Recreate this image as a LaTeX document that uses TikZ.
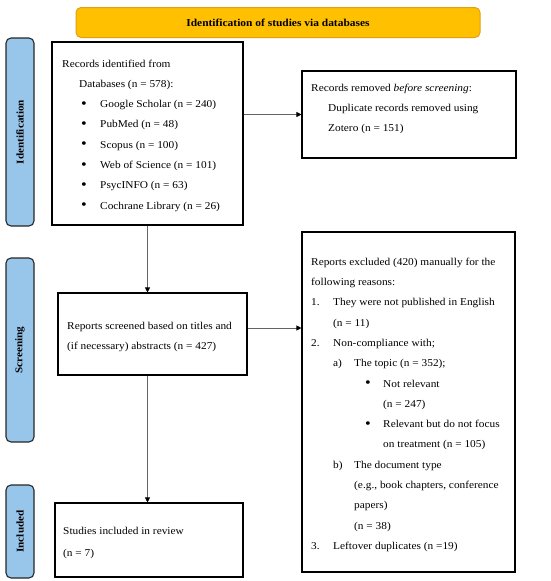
\documentclass[tikz,border=0pt]{standalone}
\usepackage{fontspec}
\setmainfont{Liberation Serif}[FakeStretch=1.08]
\usetikzlibrary{arrows.meta}
\definecolor{bannerfill}{RGB}{255,192,0}
\definecolor{bannerdraw}{RGB}{225,160,20}
\definecolor{barfill}{RGB}{152,198,234}
\definecolor{linegray}{RGB}{100,100,100}
\newcommand\lbl[2]{\makebox[#1][l]{#2}}
\newcommand\bull{{\fontsize{15}{15}\selectfont\raisebox{-0.6pt}{\textbullet}}}
\begin{document}
\begin{tikzpicture}[x=1pt,y=-1pt,
 box/.style={draw=black,line width=1.1pt,inner sep=0,rectangle},
 txt/.style={anchor=north west,inner sep=0,align=left,font=\fontsize{10.5}{20.3}\selectfont},
 bar/.style={draw=black!85,fill=barfill,rounded corners=5pt,line width=1.1pt,rotate=90,
   minimum height=28pt,inner sep=0,font=\bfseries\fontsize{10.3}{10}\selectfont},
 conn/.style={draw=linegray,line width=0.9pt,-{Triangle[length=5pt,width=5pt,color=black]}}]
\useasboundingbox (0,0) rectangle (550,581);
% banner
\node[draw=bannerdraw,fill=bannerfill,rounded corners=5pt,line width=1pt,
  minimum width=404pt,minimum height=30pt,inner sep=0,font=\bfseries\fontsize{10.6}{10}\selectfont]
  (banner) at (278,22.5) {Identification of studies via databases};
% side bars
\node[bar,minimum width=188pt] (idbar) at (20,132) {Identification};
\node[bar,minimum width=184pt] (scbar) at (20,350) {Screening};
\node[bar,minimum width=93pt] (inbar) at (20,531.5) {Included};
% boxes
\node[box,minimum width=191pt,minimum height=183pt] (rec) at (147.5,133.5) {};
\node[box,minimum width=214pt,minimum height=87pt] (rem) at (409,114.5) {};
\node[box,minimum width=189pt,minimum height=82pt] (scr) at (152.5,334) {};
\node[box,minimum width=213pt,minimum height=340pt] (exc) at (408.5,402) {};
\node[box,minimum width=188pt,minimum height=74pt] (inc) at (149,540) {};
% texts
\node[txt] (rectext) at (62,59.5) {Records identified from\\
\hspace*{17pt}Databases (n = 578):\\
\hspace*{19pt}\lbl{19pt}{\bull}Google Scholar (n = 240)\\
\hspace*{19pt}\lbl{19pt}{\bull}PubMed (n = 48)\\
\hspace*{19pt}\lbl{19pt}{\bull}Scopus (n = 100)\\
\hspace*{19pt}\lbl{19pt}{\bull}Web of Science (n = 101)\\
\hspace*{19pt}\lbl{19pt}{\bull}PsycINFO (n = 63)\\
\hspace*{19pt}\lbl{19pt}{\bull}Cochrane Library (n = 26)};
\node[txt] (remtext) at (311,83.6) {Records removed \emph{before screening}:\\
\hspace*{17pt}Duplicate records removed using\\
\hspace*{17pt}Zotero (n = 151)};
\node[txt] (scrtext) at (67,321.6) {Reports screened based on titles and\\
(if necessary) abstracts (n = 427)};
\node[txt] (exctext) at (311,257.6) {Reports excluded (420) manually for the\\
following reasons:\\
\lbl{22pt}{1.}They were not published in English\\
\hspace*{22pt}(n = 11)\\
\lbl{22pt}{2.}Non-compliance with;\\
\hspace*{22pt}\lbl{21pt}{a)}The topic (n = 352);\\
\hspace*{54pt}\lbl{18pt}{\bull}Not relevant\\
\hspace*{72pt}(n = 247)\\
\hspace*{54pt}\lbl{18pt}{\bull}Relevant but do not focus\\
\hspace*{72pt}on treatment (n = 105)\\
\hspace*{22pt}\lbl{21pt}{b)}The document type\\
\hspace*{43pt}(e.g., book chapters, conference\\
\hspace*{43pt}papers)\\
\hspace*{43pt}(n = 38)\\
\lbl{22pt}{3.}Leftover duplicates (n =19)};
\node[txt,font=\fontsize{10.5}{22}\selectfont] (inctext) at (63,527) {Studies included in review\\
(n = 7)};
% connectors
\draw[conn] (rec.east |- rem.west) -- (rem.west);
\draw[conn] (rec.south) -- (rec.south |- scr.north);
\draw[conn] ([yshift=6pt]scr.east) -- ([yshift=6pt]scr.east -| exc.west);
\draw[conn] (scr.south -| rec.south) -- (inc.north -| rec.south);
\end{tikzpicture}
\end{document}
